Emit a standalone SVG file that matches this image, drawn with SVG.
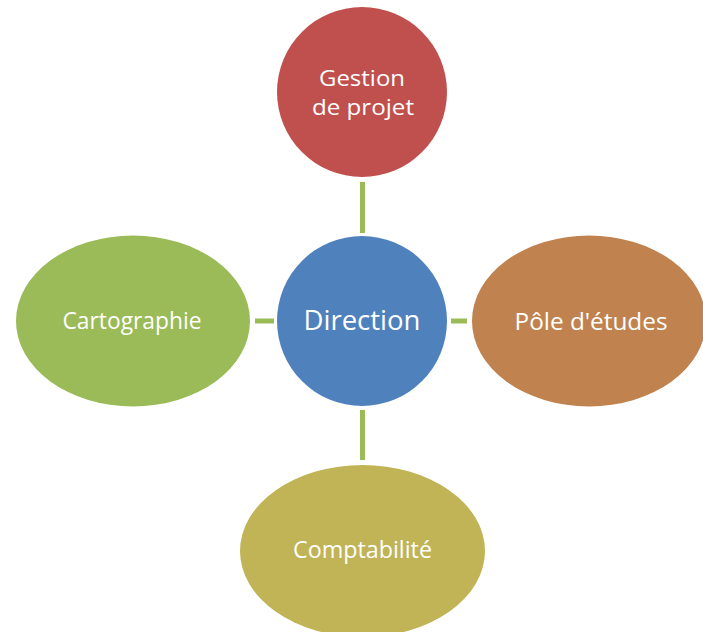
<svg xmlns="http://www.w3.org/2000/svg" width="703" height="632" viewBox="0 0 703 632">
<style>
.lbl{font-family:"Open Sans","Liberation Sans",sans-serif;fill:#ffffff;text-anchor:middle;font-size:24px}
.big{font-size:28px}
.two{font-size:21px}
.con{stroke:#9BBB59;stroke-width:5;fill:none}
</style>
<rect width="703" height="632" fill="#ffffff"/>
<g id="connectors">
<line class="con" x1="362.5" y1="182" x2="362.5" y2="233"/>
<line class="con" x1="255" y1="321" x2="274" y2="321"/>
<line class="con" x1="451" y1="321" x2="467" y2="321"/>
<line class="con" x1="362.5" y1="410" x2="362.5" y2="460"/>
</g>
<g id="gestion">
<circle cx="362" cy="92" r="85" fill="#C0504D"/>
<text class="lbl two" x="362" y="86" textLength="86" lengthAdjust="spacingAndGlyphs">Gestion</text>
<text class="lbl two" x="363" y="115" textLength="102" lengthAdjust="spacingAndGlyphs">de projet</text>
</g>
<g id="direction">
<circle cx="362" cy="321" r="85" fill="#4F81BD"/>
<text class="lbl big" x="362" y="330" textLength="117" lengthAdjust="spacingAndGlyphs">Direction</text>
</g>
<g id="pole">
<ellipse cx="589" cy="321" rx="117" ry="85.5" fill="#C0834F"/>
<text class="lbl" x="591" y="330" textLength="153" lengthAdjust="spacingAndGlyphs">Pôle d'études</text>
</g>
<g id="cartographie">
<ellipse cx="133" cy="321" rx="117" ry="85.5" fill="#9BBB59"/>
<text class="lbl" x="132" y="329" textLength="139" lengthAdjust="spacingAndGlyphs">Cartographie</text>
</g>
<g id="comptabilite">
<ellipse cx="362.5" cy="551" rx="122.5" ry="86" fill="#C0B456"/>
<text class="lbl" x="362.5" y="558" textLength="139" lengthAdjust="spacingAndGlyphs">Comptabilité</text>
</g>
</svg>
